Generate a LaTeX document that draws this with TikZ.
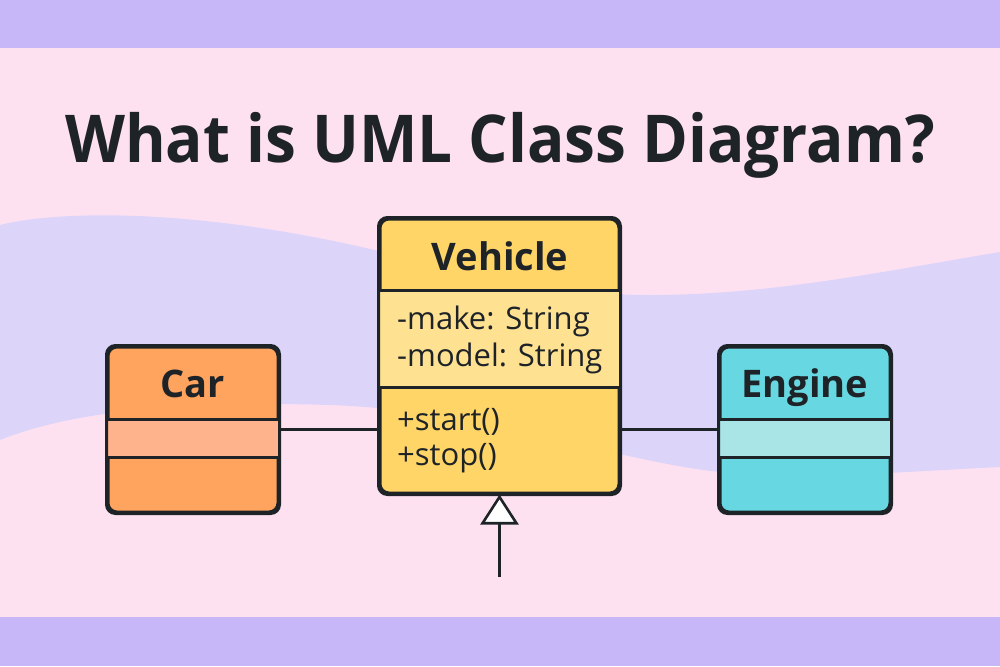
\documentclass[tikz,border=0pt]{standalone}
\usepackage{fontspec}
\setmainfont{Open Sans}
\usetikzlibrary{arrows.meta}
\definecolor{bgpink}{HTML}{FDE1F1}
\definecolor{bandpurple}{HTML}{C7B7F8}
\definecolor{wavelav}{HTML}{DDD4FA}
\definecolor{inkc}{HTML}{1E2328}
\definecolor{carorange}{HTML}{FFA45E}
\definecolor{carlight}{HTML}{FFB38C}
\definecolor{vehyellow}{HTML}{FFD567}
\definecolor{vehlight}{HTML}{FFE192}
\definecolor{engcyan}{HTML}{67D7E1}
\definecolor{englight}{HTML}{A9E5E7}
\tikzset{
  classbox/.style={rectangle, rounded corners=9pt, inner sep=0pt, line width=3pt, draw=inkc},
  divider/.style={line width=3pt, draw=inkc},
  conn/.style={line width=2.6pt, draw=inkc},
  headtext/.style={font=\fontsize{38}{44}\selectfont\bfseries, text=inkc, anchor=base, inner sep=0pt},
  membertext/.style={font=\fontsize{31}{36}\selectfont, text=inkc, anchor=base west, inner sep=0pt},
}
\begin{document}
\begin{tikzpicture}[x=1pt,y=-1pt]
\useasboundingbox (0,0) rectangle (1000,666);
\fill[bgpink] (0,0) rectangle (1000,666);
\fill[bandpurple] (0,0) rectangle (1000,48);
\fill[bandpurple] (0,617) rectangle (1000,666);
% wave band
\fill[wavelav] (0,225) .. controls (60,210) and (200,208) .. (383,252)
  .. controls (480,276) and (560,295) .. (650,295)
  .. controls (770,295) and (880,272) .. (1000,252)
  -- (1000,467)
  .. controls (900,472) and (800,480) .. (720,472)
  .. controls (620,462) and (480,410) .. (330,405)
  .. controls (200,401) and (80,408) .. (0,440) -- cycle;
% title
\node[font=\fontsize{66}{80}\selectfont\bfseries, text=inkc, anchor=base, inner sep=0pt] (title) at (500,162) {\scalebox{0.94}[1]{What is UML Class Diagram?}};
% Car
\node[classbox, fill=carorange, minimum width=170pt, minimum height=165pt] (car) at (193,429.5) {};
\fill[carlight] (car.west |- 0,419) rectangle (car.east |- 0,457);
\draw[divider] (car.west |- 0,419) -- (car.east |- 0,419);
\draw[divider] (car.west |- 0,457) -- (car.east |- 0,457);
\draw[line width=3pt, draw=inkc, rounded corners=9pt] (car.north west) rectangle (car.south east);
\node[headtext] (cartitle) at (193,397) {Car};
% Engine
\node[classbox, fill=engcyan, minimum width=170pt, minimum height=165pt] (engine) at (805,429.5) {};
\fill[englight] (engine.west |- 0,419) rectangle (engine.east |- 0,457);
\draw[divider] (engine.west |- 0,419) -- (engine.east |- 0,419);
\draw[divider] (engine.west |- 0,457) -- (engine.east |- 0,457);
\draw[line width=3pt, draw=inkc, rounded corners=9pt] (engine.north west) rectangle (engine.south east);
\node[headtext] (enginetitle) at (805,397) {Engine};
% Vehicle
\node[classbox, fill=vehyellow, minimum width=239pt, minimum height=274pt] (vehicle) at (499.5,356) {};
\fill[vehlight] (vehicle.west |- 0,290) rectangle (vehicle.east |- 0,387);
\draw[divider] (vehicle.west |- 0,290) -- (vehicle.east |- 0,290);
\draw[divider] (vehicle.west |- 0,387) -- (vehicle.east |- 0,387);
\draw[line width=3pt, draw=inkc, rounded corners=9pt] (vehicle.north west) rectangle (vehicle.south east);
\node[headtext] (vehtitle) at (500,270) {Vehicle};
\node[membertext] (attr1) at (397,329) {-make: String};
\node[membertext] (attr2) at (397,366) {-model: String};
\node[membertext] (meth1) at (397,430) {+start()};
\node[membertext] (meth2) at (397,465) {+stop()};
% connectors
\draw[conn] (car.east) -- (vehicle.west |- car.east);
\draw[conn] (vehicle.east |- engine.west) -- (engine.west);
\coordinate (sub) at (499.5,577);
\draw[conn, -{Triangle[length=30pt,width=38pt,fill=white]}] (sub) -- (vehicle.south);
\end{tikzpicture}
\end{document}
